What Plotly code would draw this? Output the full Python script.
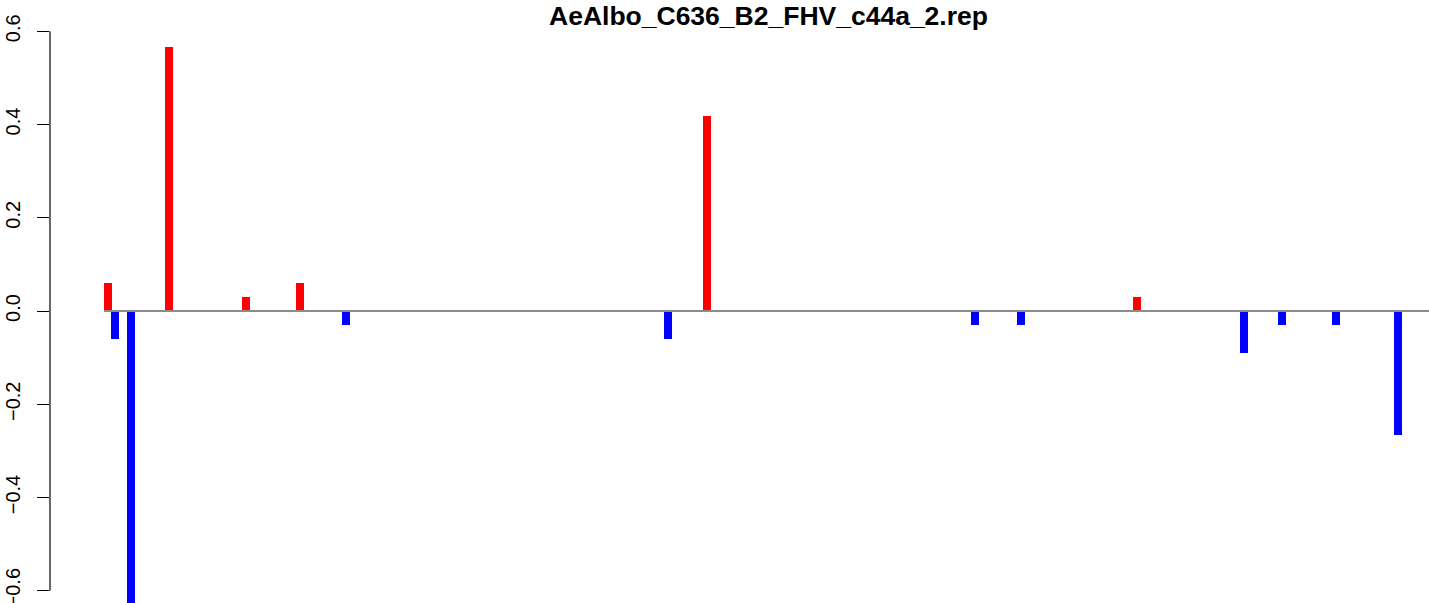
import plotly.graph_objects as go

# ---- data ----
title_text = "AeAlbo_C636_B2_FHV_c44a_2.rep"

pos_positions = [108, 169, 246, 300, 707, 1137]
pos_values = [0.06, 0.566, 0.03, 0.06, 0.419, 0.03]

neg_positions = [115, 131, 346, 668, 975, 1021, 1244, 1282, 1336, 1398]
neg_values = [-0.06, -0.63, -0.03, -0.06, -0.03, -0.03, -0.089, -0.03, -0.03, -0.267]

y_ticks = [-0.6, -0.4, -0.2, 0.0, 0.2, 0.4, 0.6]

# ---- layout constants ----
W, H = 1429, 603
ML = 50
X_RANGE = [ML, W]
Y_RANGE = [-0.6263, 0.6671]
BAR_W = 8
TITLE_X = 768

fig = go.Figure()
fig.add_trace(go.Bar(x=pos_positions, y=pos_values, width=BAR_W,
                     marker=dict(color="#FF0000", line=dict(width=0)),
                     showlegend=False, hoverinfo="x+y"))
fig.add_trace(go.Bar(x=neg_positions, y=neg_values, width=BAR_W,
                     marker=dict(color="#0000FF", line=dict(width=0)),
                     showlegend=False, hoverinfo="x+y"))

all_pos = pos_positions + neg_positions
# zero line
fig.add_shape(type="line", xref="x", yref="y",
              x0=min(all_pos) - BAR_W / 2, x1=X_RANGE[1] + 20, y0=0, y1=0,
              line=dict(color="#8c8c8c", width=2), layer="above")
# y axis line spanning the tick range (R style)
fig.add_shape(type="line", xref="paper", yref="y",
              x0=0, x1=0, y0=min(y_ticks), y1=max(y_ticks),
              line=dict(color="black", width=1.2), layer="above")

fig.add_annotation(text="<b>" + title_text + "</b>", xref="x", yref="paper",
                   x=TITLE_X, y=1, yanchor="top", xanchor="center", showarrow=False,
                   yshift=1,
                   font=dict(family="Liberation Sans, Arial, sans-serif", size=26.5, color="black"))

fig.update_layout(
    width=W, height=H,
    margin=dict(l=ML, r=0, t=0, b=0, pad=0, autoexpand=False),
    paper_bgcolor="white", plot_bgcolor="white",
    barmode="overlay",
    bargap=0,
    xaxis=dict(range=X_RANGE, visible=False, showgrid=False, zeroline=False,
               automargin=False),
    yaxis=dict(range=Y_RANGE, showgrid=False, zeroline=False, showline=False,
               automargin=False,
               tickmode="array", tickvals=y_ticks, tickformat=".1f",
               ticks="outside", ticklen=12, tickwidth=1.2, tickcolor="black",
               tickangle=-90, ticklabelstandoff=9, ticklabeloverflow="allow",
               tickfont=dict(family="Liberation Sans, Arial, sans-serif", size=20, color="black")),
)

fig.write_html("out.html", config={"displayModeBar": False},
               post_script="document.body.style.margin='0';document.body.style.overflow='hidden';")
